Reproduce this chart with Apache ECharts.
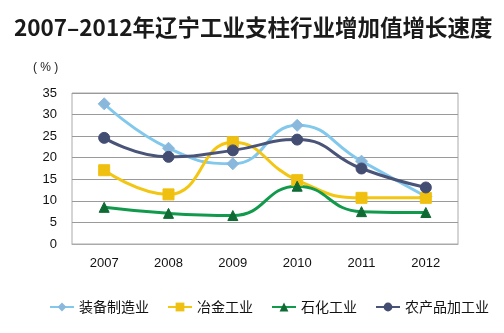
<!DOCTYPE html>
<html><head><meta charset="utf-8">
<script src="https://cdn.jsdelivr.net/npm/echarts@6/dist/echarts.min.js"></script>
<style>html,body{margin:0;padding:0;background:#fff}#c{width:504px;height:333px}</style>
</head><body><div id="c"></div>
<script>
const categories = ['2007','2008','2009','2010','2011','2012'];
const equipment = [32.5, 22.2, 18.6, 27.5, 19.2, 11.0];
const metallurgy = [17.1, 11.5, 23.6, 14.8, 10.7, 10.7];
const petrochem = [8.5, 7.1, 6.6, 13.4, 7.5, 7.3];
const agri = [24.6, 20.2, 21.7, 24.2, 17.5, 13.1];
const seriesNames = ['装备制造业','冶金工业','石化工业','农产品加工业'];

const chart = echarts.init(document.getElementById('c'));
function s(name, data, color, mcolor, symbol, size) {
  return {name, type:'line', data, smooth:0.5, symbol, symbolSize:size,
    lineStyle:{color, width:3}, itemStyle:{color:mcolor, borderColor:mcolor}};
}
chart.setOption({
  animation:false,
  title:{text:'2007–2012年辽宁工业支柱行业增加值增长速度', left:9, top:11,
    textStyle:{fontSize:22.5, fontWeight:'bold', color:'#1a1a1a', fontFamily:'"Noto Sans CJK SC", sans-serif'}},
  graphic:[{type:'text', left:33, top:62, style:{text:'( % )', fontSize:12, fill:'#222', fontFamily:'Liberation Sans, Arial'}}],
  grid:{left:72, right:46, top:93, bottom:89, show:true, borderColor:'#aaa', borderWidth:1},
  legend:{top:295, left:44, width:470, itemWidth:24, itemHeight:11, itemGap:18,
    textStyle:{fontSize:14, color:'#111', fontFamily:'"Noto Sans CJK SC", sans-serif'},
    data:seriesNames},
  xAxis:{type:'category', data:categories, boundaryGap:true,
    axisLine:{lineStyle:{color:'#aaa'}}, axisTick:{show:false},
    axisLabel:{fontSize:13, color:'#111', margin:13, fontFamily:'Liberation Sans, Arial'}},
  yAxis:{type:'value', min:0, max:35, interval:5,
    axisLine:{show:false}, axisTick:{show:false},
    axisLabel:{fontSize:13, color:'#111', margin:15, fontFamily:'Liberation Sans, Arial'},
    splitLine:{lineStyle:{color:'#9a9a9a', width:1}}},
  series:[
    s(seriesNames[0], equipment, '#82c8ec', '#8ab8dc', 'diamond', 12),
    s(seriesNames[1], metallurgy, '#f3c614', '#f0c010', 'rect', 11),
    s(seriesNames[2], petrochem, '#129a4c', '#0f6a34', 'triangle', 10),
    s(seriesNames[3], agri, '#4a5478', '#434d72', 'circle', 11)
  ]
});
</script></body></html>
